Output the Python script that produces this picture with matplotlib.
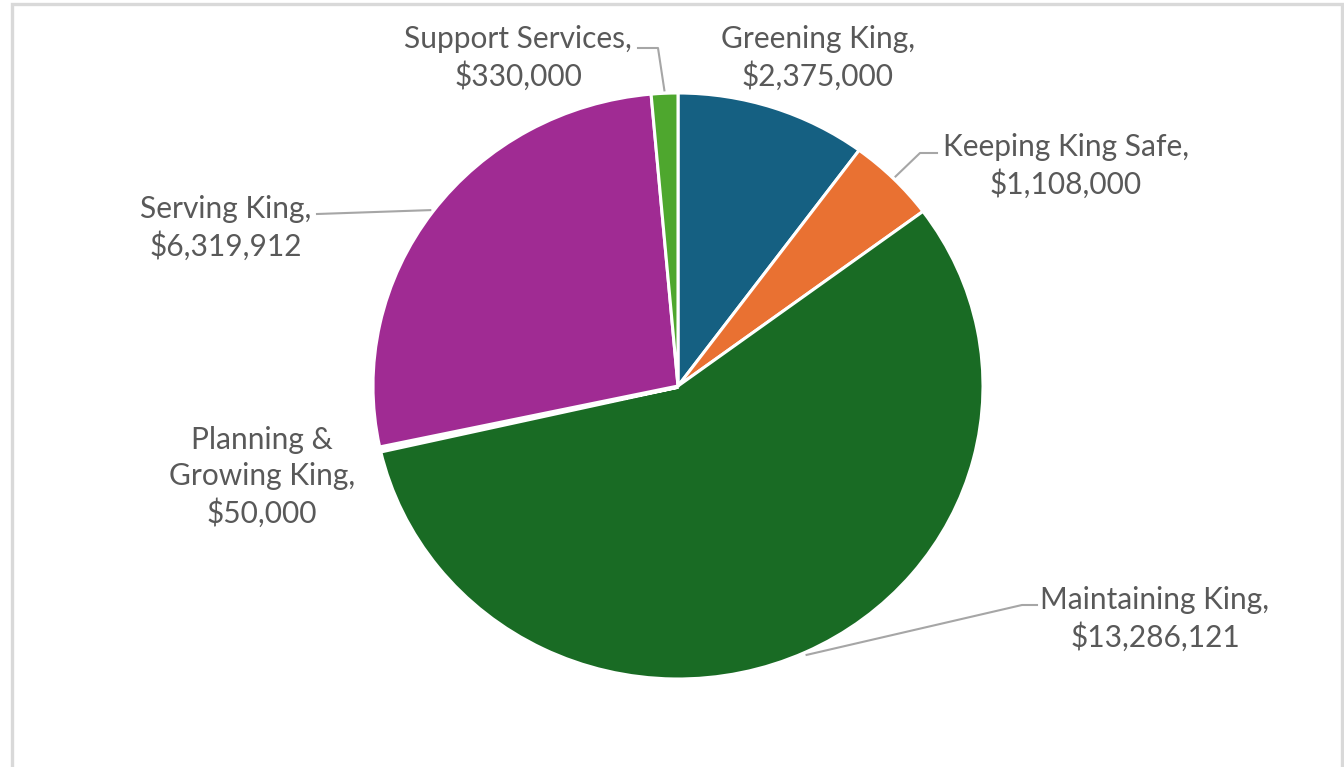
import numpy as np
import matplotlib
matplotlib.use("Agg")
import matplotlib.pyplot as plt
from matplotlib.patches import Rectangle
from matplotlib.lines import Line2D

W, H = 1344, 767
DPI = 100

# data
categories = ["Greening King", "Keeping King Safe", "Maintaining King",
              "Planning & Growing King", "Serving King", "Support Services"]
values = [2375000, 1108000, 13286121, 50000, 6319912, 330000]
colors = ["#156082", "#E97132", "#196B24", "#0F9ED5", "#A02B93", "#4EA72E"]
label_texts = ["Greening King,\n$2,375,000",
               "Keeping King Safe,\n$1,108,000",
               "Maintaining King,\n$13,286,121",
               "Planning &\nGrowing King,\n$50,000",
               "Serving King,\n$6,319,912",
               "Support Services,\n$330,000"]

TEXT = "#595959"
LEADER = "#A6A6A6"
BORDER = "#D9D9D9"

# label layout in pixels: (center x, center y), leader elbow points (None = no leader)
LABEL_POS = [(818, 58), (1066, 166), (1155, 619), (262, 477), (226, 228), (518, 58)]
LEADERS = [None,
           [(937, 153), (920, 153)],
           [(1037, 605), (1022, 605)],
           None,
           [(317, 214)],
           [(638, 48), (658, 48)]]

# pie box in pixels
CX, CY, RX, RY = 678, 386, 305, 293

plt.rcParams["font.family"] = ["Lato", "DejaVu Sans"]


def fx(px):
    return px / W


def fy(py):
    return 1 - py / H


fig = plt.figure(figsize=(W / DPI, H / DPI), dpi=DPI, facecolor="white")
ax = fig.add_axes([fx(CX - RX), fy(CY + RY), 2 * RX / W, 2 * RY / H])
wedges, _ = ax.pie(values, colors=colors, startangle=90, counterclock=False,
                   radius=1, wedgeprops=dict(edgecolor="white", linewidth=2.2))
# the tiny planning slice disappears under its white border in the source
wedges[3].set_linewidth(4)
ax.set_aspect("auto")
ax.set_xlim(-1, 1)
ax.set_ylim(-1, 1)
ax.axis("off")

for w, txt, pos, leader in zip(wedges, label_texts, LABEL_POS, LEADERS):
    fig.text(fx(pos[0]), fy(pos[1]), txt, ha="center", va="center",
             fontsize=21.5, color=TEXT, linespacing=1.34)
    if leader is None:
        continue
    mid = np.deg2rad((w.theta1 + w.theta2) / 2)
    ex = CX + 1.01 * RX * np.cos(mid)
    ey = CY - 1.01 * RY * np.sin(mid)
    pts = leader + [(ex, ey)]
    fig.add_artist(Line2D([fx(p[0]) for p in pts], [fy(p[1]) for p in pts],
                          color=LEADER, linewidth=1.5, transform=fig.transFigure))

# chart area border (bottom edge is cut off in the source)
fig.add_artist(Rectangle((fx(12), fy(H + 20)), fx(1342 - 12), (H + 20 - 3.5) / H,
                         fill=False, edgecolor=BORDER, linewidth=2.4,
                         transform=fig.transFigure))

fig.savefig("out.png", dpi=DPI, facecolor="white")
